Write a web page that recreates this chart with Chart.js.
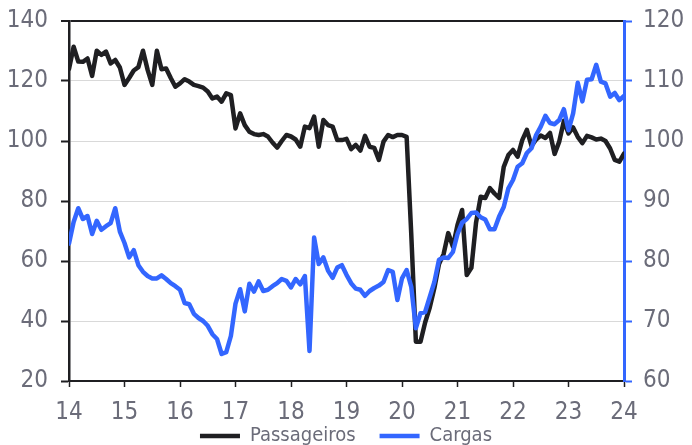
<!DOCTYPE html>
<html lang="pt-BR">
<head>
<meta charset="utf-8">
<script src="https://cdn.jsdelivr.net/npm/chart.js@4.4.1/dist/chart.umd.min.js"></script>
<style>
  html, body { margin: 0; padding: 0; background: #fff; overflow: hidden; }
  #wrap { position: relative; width: 692px; height: 485px; }
</style>
</head>
<body>
<div id="wrap"><canvas id="grafico"></canvas></div>
<script>
// Dados mensais, jan/2014 a jan/2024
const anoInicial = 14;
const anosTicks = [14, 15, 16, 17, 18, 19, 20, 21, 22, 23, 24];

// Passageiros (eixo esquerdo)
const passageiros = [
  124, 131.4, 126.5, 126.4, 127.5, 121.7, 130.1, 128.7, 129.8, 125.9, 127, 124.5, // 2014
  118.7, 121, 123.5, 124.6, 130.1, 123.7, 118.7, 130.1, 123.9, 124.2, 121, 118.1, // 2015
  119.2, 120.6, 119.8, 118.7, 118.3, 117.8, 116.5, 114.2, 114.8, 113.1, 115.9, 115.3, // 2016
  104.2, 109.2, 105.3, 103.1, 102.3, 102, 102.3, 101.5, 99.5, 97.8, 100, 102, // 2017
  101.5, 100.5, 98.1, 104.8, 104.3, 108.1, 98.1, 107, 105.3, 104.8, 100.3, 100.3, // 2018
  100.7, 97.3, 98.7, 96.8, 101.7, 98.1, 97.7, 93.7, 99.8, 102, 101.3, 102, // 2019
  102, 101.4, 69, 33.1, 33.1, 39.5, 44.5, 51, 59, 62.3, 69.3, 64.8, // 2020
  72, 77, 55.3, 57.7, 72.7, 81.4, 81, 84.3, 82.5, 81, 91.4, 95.3, // 2021
  97, 94.8, 100.3, 103.7, 98.4, 100.5, 101.8, 101, 102.7, 95.7, 99.8, 106.7, // 2022
  102.5, 104.5, 101.4, 99.3, 101.7, 101.2, 100.5, 100.8, 100, 97.5, 93.7, 93.1, // 2023
  95.8, // 2024
];

// Cargas (eixo direito)
const cargas = [
  82.9, 86.5, 88.8, 87, 87.5, 84.5, 86.7, 85.2, 85.8, 86.3, 88.8, 84.9, // 2014
  83, 80.6, 81.8, 79.3, 78.2, 77.5, 77.1, 77.1, 77.6, 77, 76.3, 75.8, // 2015
  75.2, 73, 72.8, 71.2, 70.5, 70, 69.2, 67.8, 67, 64.5, 64.8, 67.5, // 2016
  72.9, 75.3, 71.6, 76.2, 74.9, 76.6, 75, 75.2, 75.8, 76.3, 77, 76.7, // 2017
  75.6, 77, 76.1, 77.5, 65, 83.9, 79.5, 80.6, 78.4, 77.2, 78.9, 79.3, // 2018
  77.7, 76.3, 75.4, 75.2, 74.2, 75, 75.5, 75.9, 76.5, 78.5, 78.2, 73.5, // 2019
  77.1, 78.5, 75.7, 68.8, 71.3, 71.5, 74, 76.5, 80.2, 80.6, 80.5, 81.5, // 2020
  84.5, 86.4, 87, 88, 88.1, 87.3, 86.9, 85.3, 85.3, 87.4, 89, 92.1, // 2021
  93.5, 95.7, 96.3, 98, 98.8, 101, 102.4, 104.2, 103, 102.8, 103.5, 105.3, // 2022
  101.8, 104.6, 109.7, 106.6, 110.2, 110.3, 112.7, 109.9, 109.6, 107.4, 108, 106.8, // 2023
  107.5, // 2024
];

// Posição de cada mês no eixo x (anos)
const meses = passageiros.map((_, i) => anoInicial + i / 12);

const corPreta = "#1f1f22";
const corAzul = "#3366ff";
const corTexto = "#6b6c79";
const fonte = "'DejaVu Sans Condensed', 'DejaVu Sans', sans-serif";

Chart.defaults.font.family = fonte;
Chart.defaults.color = corTexto;

// Sobe a legenda para perto dos rótulos do eixo x
const subirLegenda = {
  id: "subirLegenda",
  afterLayout(chart) {
    const dy = -29;
    chart.legend.top += dy;
    chart.legend.bottom += dy;
  },
};

// Eixo y sem o espaço extra acima/abaixo
function semPadding(scale, largura) {
  scale.width = largura;
  scale.paddingTop = 0;
  scale.paddingBottom = 0;
}

const ctx = document.getElementById("grafico").getContext("2d");
const chart = new Chart(ctx, {
  type: "line",
  data: {
    datasets: [
      {
        label: "Passageiros",
        data: meses.map((x, i) => ({ x: x, y: passageiros[i] })),
        yAxisID: "y",
        borderColor: corPreta,
        backgroundColor: corPreta,
        borderWidth: 4.5,
        borderJoinStyle: "round",
        borderCapStyle: "round",
        pointRadius: 0,
        tension: 0,
        order: 1,
      },
      {
        label: "Cargas",
        data: meses.map((x, i) => ({ x: x, y: cargas[i] })),
        yAxisID: "y2",
        borderColor: corAzul,
        backgroundColor: corAzul,
        borderWidth: 4.5,
        borderJoinStyle: "round",
        borderCapStyle: "round",
        pointRadius: 0,
        tension: 0,
        order: 0,
      },
    ],
  },
  plugins: [subirLegenda],
  options: {
    responsive: true,
    maintainAspectRatio: false,
    animation: false,
    layout: { padding: { top: 21, left: 0, right: 0, bottom: 0 } },
    plugins: {
      tooltip: { enabled: false },
      legend: {
        display: true,
        position: "bottom",
        labels: {
          usePointStyle: true,
          pointStyle: "line",
          pointStyleWidth: 40,
          padding: 24,
          color: corTexto,
          font: { size: 20 },
          sort: (a, b) => a.datasetIndex - b.datasetIndex,
        },
      },
    },
    scales: {
      x: {
        type: "linear",
        min: 14,
        max: 24,
        afterBuildTicks: (scale) => {
          scale.ticks = anosTicks.map((v) => ({ value: v }));
        },
        afterFit: (scale) => {
          scale.height = 50;
        },
        ticks: {
          color: corTexto,
          font: { size: 24 },
          padding: 11,
          maxRotation: 0,
          callback: (v) => String(v),
        },
        grid: {
          drawOnChartArea: false,
          drawTicks: true,
          tickLength: 6,
          tickColor: corPreta,
          tickWidth: 1.5,
        },
        border: { color: corPreta, width: 2 },
      },
      y: {
        position: "left",
        min: 20,
        max: 140,
        ticks: {
          stepSize: 20,
          color: corTexto,
          font: { size: 24 },
          padding: 13,
        },
        afterFit: (scale) => semPadding(scale, 69),
        grid: {
          color: (c) => (c.tick && c.tick.value === 140 ? corPreta : "#d9d9d9"),
          lineWidth: (c) => (c.tick && c.tick.value === 140 ? 2 : 1),
          tickLength: 8,
          tickColor: corPreta,
          tickWidth: 2,
        },
        border: { color: corPreta, width: 2.5 },
      },
      y2: {
        position: "right",
        min: 60,
        max: 120,
        ticks: {
          stepSize: 10,
          color: corTexto,
          font: { size: 24 },
          padding: 11,
        },
        afterFit: (scale) => semPadding(scale, 68),
        grid: {
          drawOnChartArea: false,
          tickLength: 8,
          tickColor: corAzul,
          tickWidth: 2,
        },
        border: { color: corAzul, width: 3 },
      },
    },
  },
});
</script>
</body>
</html>
